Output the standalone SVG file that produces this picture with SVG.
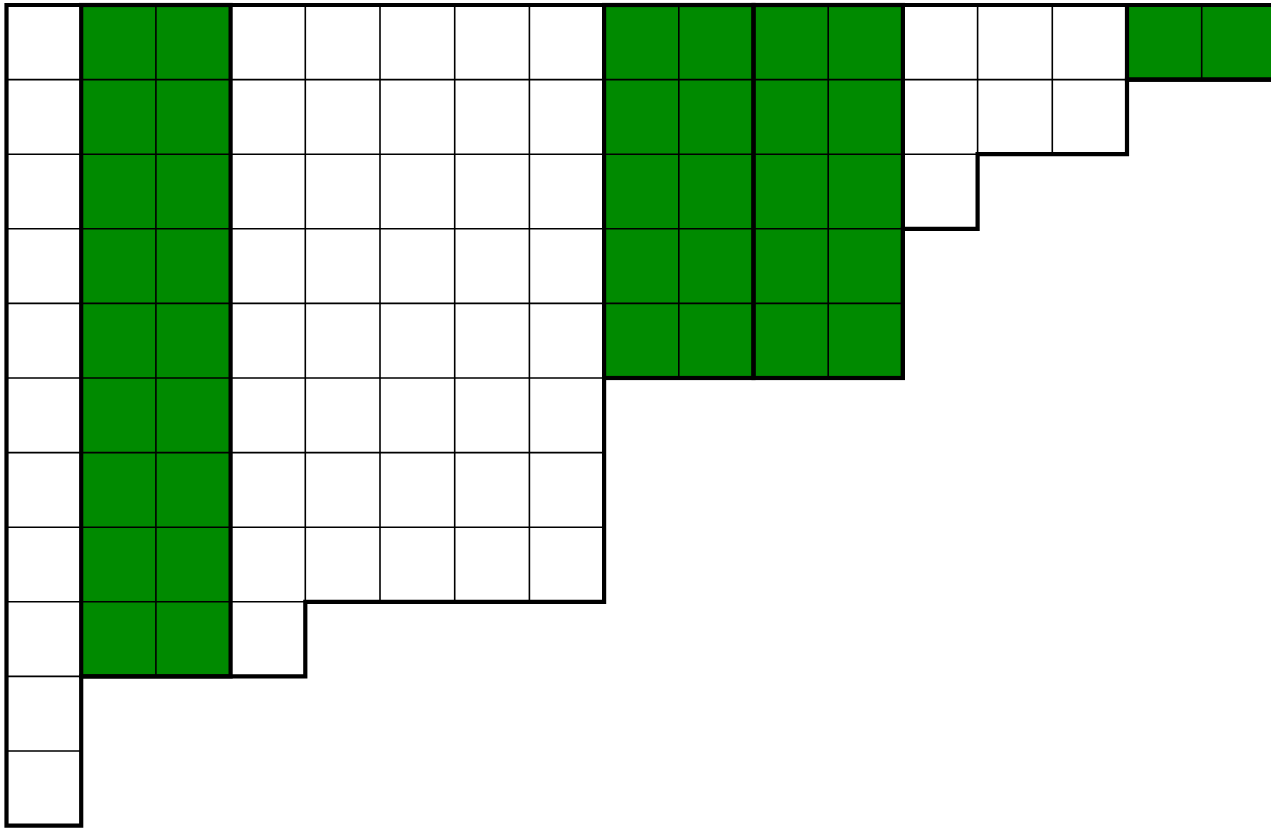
<svg xmlns="http://www.w3.org/2000/svg" width="1271" height="828" viewBox="0 0 1271 828">
  <style>
    .w { fill: #ffffff; }
    .g { fill: #008a00; }
    .thin { fill: none; stroke: #000; stroke-width: 1.6; }
    .thick { fill: none; stroke: #000; stroke-width: 4.2; stroke-linejoin: miter; stroke-linecap: square; }
  </style>
  <rect x="0" y="0" width="1271" height="828" fill="#ffffff"/>
  <g id="columns">
    <rect class="w" x="6.5" y="5" width="74.7" height="820.6"/>
    <rect class="g" x="81.2" y="5" width="149.4" height="671.4"/>
    <rect class="w" x="230.6" y="5" width="74.7" height="671.4"/>
    <rect class="w" x="305.3" y="5" width="298.8" height="596.8"/>
    <rect class="g" x="604.1" y="5" width="298.8" height="373"/>
    <rect class="w" x="902.9" y="5" width="74.7" height="223.8"/>
    <rect class="w" x="977.6" y="5" width="149.4" height="149.2"/>
    <rect class="g" x="1127" y="5" width="160" height="74.6"/>
  </g>
  <g id="grid-lines">
    <path class="thin" d="M6.5,79.6H1280 M6.5,154.2H1127 M6.5,228.8H977.6 M6.5,303.4H902.9 M6.5,378H902.9 M6.5,452.6H604.1 M6.5,527.2H604.1 M6.5,601.8H604.1 M6.5,676.4H305.3 M6.5,751H81.2"/>
    <path class="thin" d="M81.2,5V676.4 M155.9,5V676.4 M230.6,5V676.4 M305.3,5V601.8 M380,5V601.8 M454.7,5V601.8 M529.4,5V601.8 M604.1,5V378 M678.8,5V378 M753.5,5V378 M828.2,5V378 M902.9,5V228.8 M977.6,5V154.2 M1052.3,5V154.2 M1127,5V79.6 M1201.7,5V79.6"/>
  </g>
  <g id="borders">
    <path class="thick" d="M1280,5H6.5V825.6H81.2V676.4H305.3V601.8H604.1V378H902.9V228.8H977.6V154.2H1127V79.6H1280"/>
    <rect class="thick" x="81.2" y="5" width="149.4" height="671.4"/>
    <rect class="thick" x="604.1" y="5" width="149.4" height="373"/>
    <rect class="thick" x="753.5" y="5" width="149.4" height="373"/>
    <path class="thick" d="M1127,5V79.6H1280"/>
  </g>
</svg>
